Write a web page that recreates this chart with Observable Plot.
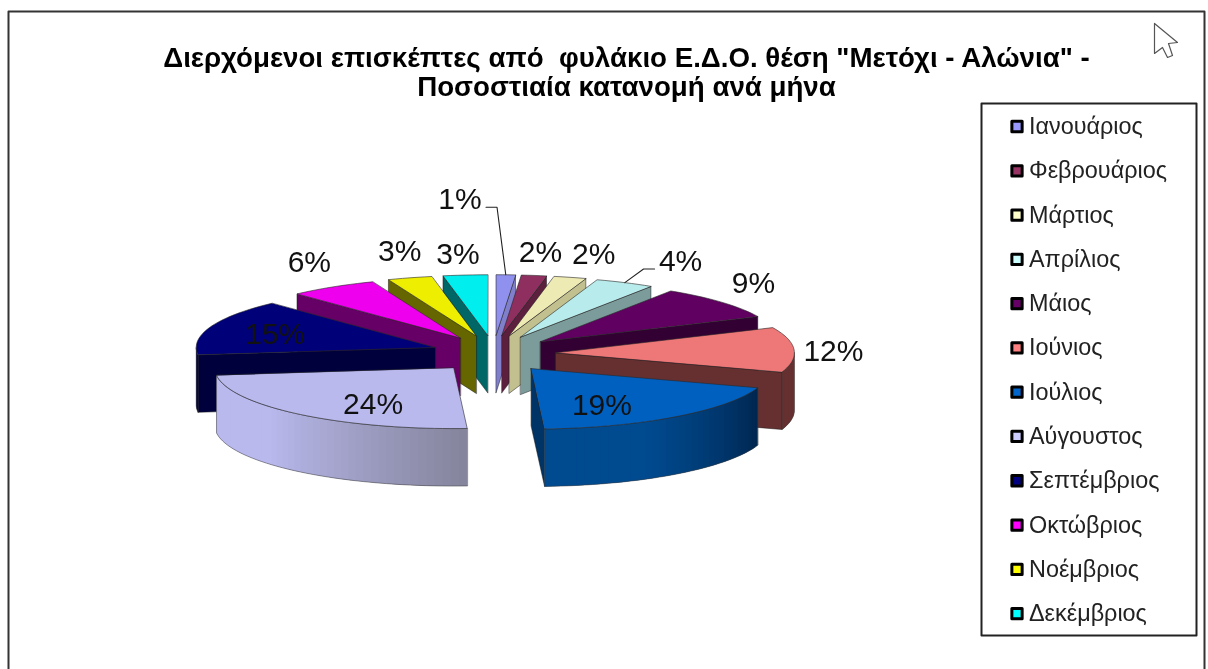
<!DOCTYPE html>
<html>
<head>
<meta charset="utf-8">
<style>html,body{margin:0;padding:0;background:#fff}svg{display:block;filter:blur(0.4px)}</style>
<script src="https://cdn.jsdelivr.net/npm/d3@7"></script>
<script src="https://cdn.jsdelivr.net/npm/@observablehq/plot@0.6"></script>
</head>
<body>
<div id="chart"></div>
<script>
const titleLines = ['Διερχόμενοι επισκέπτες από\u00a0 φυλάκιο Ε.Δ.Ο. θέση "Μετόχι - Αλώνια" -', 'Ποσοστιαία κατανομή ανά μήνα'];
const months = ["Ιανουάριος","Φεβρουάριος","Μάρτιος","Απρίλιος","Μάιος","Ιούνιος","Ιούλιος","Αύγουστος","Σεπτέμβριος","Οκτώβριος","Νοέμβριος","Δεκέμβριος"];
const shares = [1.3,1.7,2.2,4,9,12,19,24,15,6,3,3];
const legendColors = ["#9999ff","#993366","#ffffcc","#ccffff","#660066","#ff8080","#0066cc","#ccccff","#000080","#ff00ff","#ffff00","#00ffff"];
const topColors = ["#9090ee","#8f2f5f","#eeeab4","#b8ecec","#600060","#ee7777","#0060c0","#b9b9ee","#000078","#ee00ee","#eeee00","#00eeee"];
const wallColors = ["#7f7fcc","#5c1f3d","#c2c08e","#7c9c9c","#330033","#663030","#003366","#8c8ca8","#00003c","#660066","#666600","#006666"];
const rimStart = ["#7f7fcc","#5c1f3d","#c2c08e","#7c9c9c","#330033","#663030","#00264f","#84849c","#00003c","#660066","#666600","#006666"];
const rimEnd = ["#7f7fcc","#5c1f3d","#c2c08e","#7c9c9c","#330033","#663030","#004a90","#b9b9ee","#00003c","#660066","#666600","#006666"];
const paintOrder = [11,0,10,1,9,2,8,3,4,5,7,6];
const labelNudgeX = [-36,38.7,84.5,160,213,278,70.8,-80.7,-160,-151,-76.5,-29.8];
const labelNudgeY = [-136,-83,-81,-76,-58,-1,37,36.5,-13,-75.5,-85,-81];
const leaderSlices = [0,3];

const W = 1208, H = 669;
const cx = 493, cy = 353.3, rx = 239, ry = 60.5, ex = 62, ey = 18.6, depth = 57.5;
const rad = d => d * Math.PI / 180;
const total = d3.sum(shares);
let acc = 0;
const slices = shares.map((v, i) => {
  const a0 = acc / total * 360; acc += v; const a1 = acc / total * 360; const m = (a0 + a1) / 2;
  return {i, a0, a1, m, ax: cx + ex * Math.sin(rad(m)), ay: cy - ey * Math.cos(rad(m))};
});
const rimPt = (s, a) => [s.ax + rx * Math.sin(rad(a)), s.ay - ry * Math.cos(rad(a))];

const faces = []; let fid = 0;
const addFace = (pts, fill, stroke, sw) => { const id = fid++; pts.forEach(([x, y]) => faces.push({id, x, y, fill, stroke, sw})); };
const arc = (s, a0, a1) => { const n = Math.max(1, Math.ceil((a1 - a0) / 2)); return d3.range(n + 1).map(k => rimPt(s, a0 + (a1 - a0) * k / n)); };

paintOrder.forEach(i => {
  const s = slices[i], p0 = rimPt(s, s.a0), p1 = rimPt(s, s.a1), A = [s.ax, s.ay];
  const down = ([x, y]) => [x, y + depth];
  if (s.a1 < 180) addFace([A, p1, down(p1), down(A)], wallColors[i], "#1a1a1a", 0.5);
  if (s.a0 > 180) addFace([A, p0, down(p0), down(A)], wallColors[i], "#1a1a1a", 0.5);
  const v0 = Math.max(s.a0, 90), v1 = Math.min(s.a1, 270);
  if (v1 > v0) {
    const n = Math.ceil((v1 - v0) / 2), col = d3.interpolateRgb(rimStart[i], rimEnd[i]);
    const step = (v1 - v0) / n;
    // each strip reaches over the next one so that no seam shows
    d3.range(n).forEach(k => {
      const b0 = v0 + step * k, b1 = Math.min(v1, b0 + step * 2);
      const c = d3.rgb(col(Math.min(1, 1.6 * (k + .5) / n))).formatHex();
      const q0 = arc(s, b0, b1);
      addFace([...q0, ...q0.map(down).reverse()], c, "none", 0);
    });
    const top = arc(s, v0, v1);
    addFace([...top, ...top.map(down).reverse()], "none", "#3a3a3a", 0.5);
  }
  addFace([A, ...arc(s, s.a0, s.a1)], topColors[i], "#262626", 0.6);
});

const labels = slices.map(s => ({
  x: s.ax + labelNudgeX[s.i], y: s.ay + labelNudgeY[s.i], text: Math.round(shares[s.i]) + "%"
}));
const leaders = leaderSlices.flatMap(i => {
  const s = slices[i], l = labels[i], rim = rimPt(s, s.m);
  const side = i === 0 ? 1 : -1;
  const lx = l.x + side * 26, ly = l.y + 8;
  return [[lx, ly], [lx + side * 11, ly], rim].map(([x, y]) => ({i, x, y}));
});
// the window frame and the stray mouse pointer captured in the screenshot
const frame = [[8,H],[8,11],[1204,11],[1204,H]].map(([x,y]) => ({x,y}));
const legendBox = [[981,103],[1196,103],[1196,635],[981,635]].map(([x,y]) => ({x,y}));
const pointer = [[1154,23],[1154,53],[1162,47],[1167,57],[1172,55],[1168,43],[1177,42]].map(([x,y]) => ({x,y}));
const legendY = i => 126 + i * 44.28;
const font = "Liberation Sans, Arial, sans-serif";

const plot = Plot.plot({
  width: W, height: H, margin: 0,
  x: {domain: [0, W], range: [0, W], axis: null},
  y: {domain: [0, H], range: [0, H], axis: null},
  color: {type: "identity"},
  style: {background: "#fff"},
  marks: [
    Plot.line(frame, {x: "x", y: "y", stroke: "#333", strokeWidth: 2}),
    Plot.line(legendBox, {x: "x", y: "y", curve: "linear-closed", stroke: "#222", strokeWidth: 2, fill: "#fff"}),
    Plot.line(pointer, {x: "x", y: "y", curve: "linear-closed", stroke: "#555", strokeWidth: 1.2, fill: "#fff"}),
    Plot.line(faces, {x: "x", y: "y", z: "id", curve: "linear-closed", fill: "fill", stroke: "stroke", strokeWidth: "sw", strokeLinejoin: "round"}),
    Plot.line(leaders, {x: "x", y: "y", z: "i", stroke: "#222", strokeWidth: 1.1}),
    Plot.text(titleLines, {x: () => 626, y: (d, i) => 58 + i * 29, text: d => d, fontFamily: font, fontWeight: "bold", fontSize: 27.7, fill: "#000", textAnchor: "middle"}),
    Plot.text(labels, {x: "x", y: "y", text: "text", fontFamily: font, fontSize: 30, fill: "#111", textAnchor: "middle"}),
    Plot.dot(months, {x: () => 1016.5, y: (d, i) => legendY(i), symbol: "square", r: 5.8, fill: (d, i) => legendColors[i], stroke: "#000", strokeWidth: 3, strokeLinejoin: "round"}),
    Plot.text(months, {x: () => 1028.5, y: (d, i) => legendY(i), text: d => d, fontFamily: font, fontSize: 23.4, fill: "#222", textAnchor: "start"})
  ]
});
document.getElementById("chart").append(plot);
</script>
</body>
</html>
